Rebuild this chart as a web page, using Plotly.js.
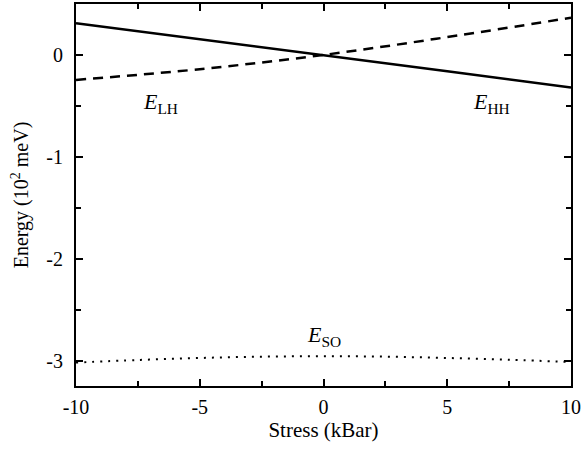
<!DOCTYPE html>
<html><head><meta charset="utf-8">
<script src="https://cdn.plot.ly/plotly-3.0.1.min.js"></script>
</head><body style="margin:0;background:#fff"><div id="chart"></div>
<script>
const stress = [-10, -5, 0, 5, 10];
const eHH = [0.31, 0.155, 0, -0.16, -0.32];
const eLH = [-0.245, -0.14, 0, 0.175, 0.365];
const soStress = [-10, -7.5, -5, -2.5, 0, 2.5, 5, 7.5, 10];
const eSO = [-3.02, -2.995, -2.975, -2.962, -2.958, -2.962, -2.975, -2.992, -3.015];
const xTickVals = [-10, -5, 0, 5, 10];
const xTickText = ['-10', '-5', '0', '5', '10'];
const yTickVals = [-3, -2, -1, 0];
const yTickText = ['-3', '-2', '-1', '0'];
const labels = [
  {x: -6.6, y: -0.47, text: '<i>E</i><sub>LH</sub>'},
  {x: 6.8, y: -0.47, text: '<i>E</i><sub>HH</sub>'},
  {x: 0, y: -2.76, text: '<i>E</i><sub>SO</sub>'}
];
const FAM = 'Liberation Serif';
const traces = [
  {x: stress, y: eHH, mode: 'lines', line: {color: '#000', width: 2.5}},
  {x: stress, y: eLH, mode: 'lines', line: {color: '#000', width: 2.5, dash: '10px,7px', shape: 'spline'}},
  {x: soStress, y: eSO, mode: 'lines', line: {color: '#000', width: 2, dash: '2px,6px', shape: 'spline'}}
];
const layout = {
  width: 584, height: 452,
  margin: {l: 76, r: 13, t: 4, b: 66},
  paper_bgcolor: '#fff', plot_bgcolor: '#fff',
  showlegend: false, font: {family: FAM, size: 20, color: '#000'},
  xaxis: {
    showgrid: false, zeroline: false, showline: true, linecolor: '#000', linewidth: 2,
    ticks: 'inside', ticklen: 7, tickwidth: 2, tickcolor: '#000', mirror: 'ticks',
    ticklabelstandoff: 2,
    range: [-10, 10], tickmode: 'array', tickvals: xTickVals, ticktext: xTickText,
    tickfont: {family: FAM, size: 20, color: '#000'},
    minor: {ticks: 'inside', ticklen: 5, tickwidth: 2, tickcolor: '#000', dtick: 2.5},
    title: {text: 'Stress (kBar)', font: {family: FAM, size: 21, color: '#000'}, standoff: 0}
  },
  yaxis: {
    showgrid: false, zeroline: false, showline: true, linecolor: '#000', linewidth: 2,
    ticks: 'inside', ticklen: 7, tickwidth: 2, tickcolor: '#000', mirror: 'ticks',
    ticklabelstandoff: 7,
    range: [-3.25, 0.5], tickmode: 'array', tickvals: yTickVals, ticktext: yTickText,
    tickfont: {family: FAM, size: 20, color: '#000'},
    minor: {ticks: 'inside', ticklen: 5, tickwidth: 2, tickcolor: '#000', dtick: 0.5},
    title: {text: 'Energy (10<sup>2</sup> meV)', font: {family: FAM, size: 20, color: '#000'}, standoff: 12}
  },
  annotations: labels.map(l => ({x: l.x, y: l.y, text: l.text, showarrow: false,
    font: {family: FAM, size: 22, color: '#000'}}))
};
Plotly.newPlot('chart', traces, layout, {displayModeBar: false});
</script></body></html>
